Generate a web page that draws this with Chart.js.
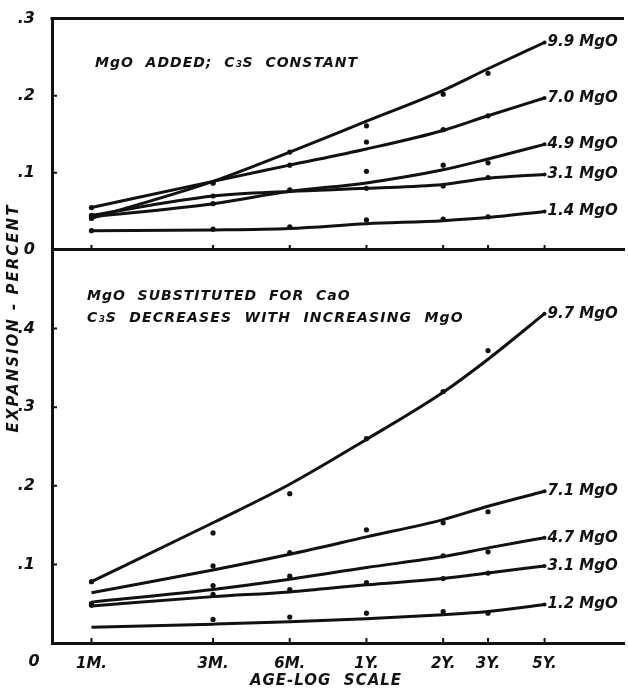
<!DOCTYPE html>
<html>
<head>
<meta charset="utf-8">
<script src="https://cdn.jsdelivr.net/npm/chart.js@4.4.1/dist/chart.umd.min.js"></script>
<style>
  html, body { margin: 0; padding: 0; background: #fff; }
  #wrap { position: relative; width: 628px; height: 692px; overflow: hidden; }
  #wrap canvas { position: absolute; left: 0; top: 0; }
</style>
</head>
<body>
<div id="wrap">
  <canvas id="topChart" width="628" height="692"></canvas>
  <canvas id="bottomChart" width="628" height="692"></canvas>
</div>
<script>
// Age axis, in months (log scale)
const ageMonths = [1, 3, 6, 12, 24, 36, 60];
const ageLabels = ['1M.', '3M.', '6M.', '1Y.', '2Y.', '3Y.', '5Y.'];

// Top panel - MgO added, C3S constant
const topNames = ['9.9 MgO', '7.0 MgO', '4.9 MgO', '3.1 MgO', '1.4 MgO'];
const topCurve99 = [0.041, 0.089, 0.127, 0.167, 0.207, 0.235, 0.269];
const topCurve70 = [0.055, 0.089, 0.110, 0.131, 0.155, 0.174, 0.197];
const topCurve49 = [0.043, 0.060, 0.076, 0.087, 0.104, 0.118, 0.137];
const topCurve31 = [0.045, 0.070, 0.076, 0.080, 0.085, 0.093, 0.098];
const topCurve14 = [0.025, 0.026, 0.028, 0.034, 0.038, 0.042, 0.050];
const topDots99 = [0.041, 0.087, 0.127, 0.161, 0.202, 0.229, null];
const topDots70 = [0.055, 0.087, 0.110, 0.140, 0.156, 0.174, null];
const topDots49 = [0.043, 0.060, 0.077, 0.102, 0.110, 0.113, null];
const topDots31 = [0.045, 0.070, 0.078, 0.080, 0.083, 0.094, null];
const topDots14 = [0.025, 0.027, 0.030, 0.039, 0.040, 0.043, null];
const topTicks = [0, 0.1, 0.2, 0.3];

// Bottom panel - MgO substituted for CaO
const botNames = ['9.7 MgO', '7.1 MgO', '4.7 MgO', '3.1 MgO', '1.2 MgO'];
const botCurve97 = [0.078, 0.153, 0.202, 0.259, 0.319, 0.361, 0.419];
const botCurve71 = [0.064, 0.093, 0.113, 0.135, 0.157, 0.174, 0.193];
const botCurve47 = [0.052, 0.068, 0.081, 0.096, 0.110, 0.121, 0.134];
const botCurve31 = [0.047, 0.059, 0.065, 0.074, 0.082, 0.089, 0.098];
const botCurve12 = [0.020, 0.024, 0.027, 0.031, 0.036, 0.040, 0.049];
const botDots97 = [0.078, 0.140, 0.190, 0.260, 0.320, 0.372, null];
const botDots71 = [null, 0.098, 0.115, 0.144, 0.153, 0.167, null];
const botDots47 = [0.050, 0.073, 0.085, null, 0.111, 0.116, null];
const botDots31 = [0.048, 0.062, 0.068, 0.077, 0.082, 0.089, null];
const botDots12 = [null, 0.030, 0.033, 0.038, 0.040, 0.038, null];
const botTicks = [0.1, 0.2, 0.3, 0.4];

const INK = '#111';
const FAMILY = '"DejaVu Sans", sans-serif';
const handFont = (size) => ({ family: FAMILY, size: size, style: 'italic', weight: 'bold' });

function pts(values) {
  return ageMonths
    .map((m, i) => ({ x: m, y: values[i] }))
    .filter(p => p.y !== null);
}

function curve(name, values) {
  return {
    endLabel: name,
    data: pts(values),
    borderColor: INK,
    borderWidth: 3,
    cubicInterpolationMode: 'monotone',
    pointRadius: (c) => (c.dataIndex === values.length - 1 ? 2 : 0),
    pointBackgroundColor: INK,
    pointBorderWidth: 0
  };
}

function dots(values) {
  return {
    data: pts(values),
    showLine: false,
    pointRadius: 2.6,
    pointBackgroundColor: INK,
    pointBorderWidth: 0
  };
}

// frame lines, inward ticks, curve labels and free text
const inkPlugin = {
  id: 'ink',
  afterDraw(chart, args, opts) {
    const { ctx, chartArea: a, scales } = chart;
    ctx.save();
    ctx.strokeStyle = INK;
    ctx.fillStyle = INK;

    if (opts.topLine) {
      ctx.lineWidth = 3;
      ctx.beginPath();
      ctx.moveTo(a.left - 1.5, a.top);
      ctx.lineTo(a.right, a.top);
      ctx.stroke();
    }

    ctx.lineWidth = 2;
    ctx.beginPath();
    ageMonths.forEach(m => {
      const x = scales.x.getPixelForValue(m);
      ctx.moveTo(x, a.bottom);
      ctx.lineTo(x, a.bottom - 5);
    });
    opts.yTicks.forEach(v => {
      const y = scales.y.getPixelForValue(v);
      ctx.moveTo(a.left, y);
      ctx.lineTo(a.left + 5, y);
    });
    ctx.stroke();

    ctx.textBaseline = 'middle';

    // curve names at the 5 year end
    ctx.font = 'italic bold 15px ' + FAMILY;
    ctx.textAlign = 'left';
    chart.data.datasets.forEach((ds, i) => {
      if (!ds.endLabel) return;
      const pts = chart.getDatasetMeta(i).data;
      const p = pts[pts.length - 1];
      ctx.fillText(ds.endLabel, p.x + 3, p.y);
    });

    (opts.texts || []).forEach(t => {
      ctx.save();
      ctx.font = 'italic bold ' + t.size + 'px ' + FAMILY;
      ctx.letterSpacing = (t.spacing || 0) + 'px';
      ctx.textAlign = t.align || 'left';
      ctx.translate(t.x, t.y);
      if (t.rotate) ctx.rotate(t.rotate);
      ctx.fillText(t.text, 0, 0);
      ctx.restore();
    });
    ctx.restore();
  }
};

function xScale(height, showLabels) {
  return {
    type: 'logarithmic',
    min: 0.705,
    max: 123,
    grid: { display: false },
    border: { display: true, color: INK, width: 3 },
    afterFit: (s) => { s.height = height; },
    afterBuildTicks: (s) => { s.ticks = ageMonths.map(v => ({ value: v })); },
    ticks: {
      display: showLabels,
      autoSkip: false,
      maxRotation: 0,
      padding: 4,
      color: INK,
      font: handFont(15),
      callback: (v, i) => ageLabels[i]
    }
  };
}

function yScale(max, tickValues) {
  return {
    type: 'linear',
    min: 0,
    max: max,
    grid: { display: false },
    border: { display: true, color: INK, width: 3 },
    afterFit: (s) => { s.width = 52; },
    afterBuildTicks: (s) => { s.ticks = tickValues.map(v => ({ value: v })); },
    ticks: {
      padding: 9,
      color: INK,
      font: handFont(16),
      callback: (v) => (v === 0 ? '0' : '.' + Math.round(v * 10))
    }
  };
}

function makeChart(id, datasets, padTop, xHeight, xLabels, yMax, yTicks, pluginOpts) {
  return new Chart(document.getElementById(id), {
    type: 'line',
    data: { datasets: datasets },
    options: {
      responsive: false,
      animation: false,
      layout: { padding: { top: padTop, right: 0, left: 0, bottom: 0 } },
      plugins: {
        legend: { display: false },
        tooltip: { enabled: false },
        ink: pluginOpts
      },
      scales: {
        x: xScale(xHeight, xLabels),
        y: yScale(yMax, yTicks)
      }
    },
    plugins: [inkPlugin]
  });
}

makeChart('topChart', [
  curve(topNames[0], topCurve99),
  curve(topNames[1], topCurve70),
  curve(topNames[2], topCurve49),
  curve(topNames[3], topCurve31),
  curve(topNames[4], topCurve14),
  dots(topDots99), dots(topDots70), dots(topDots49), dots(topDots31), dots(topDots14)
], 14, 442, false, 0.3, topTicks, {
  topLine: true,
  yTicks: topTicks,
  texts: [
    { text: 'MgO  ADDED;  C\u2083S  CONSTANT', x: 95, y: 63, size: 14, spacing: 1 }
  ]
});

makeChart('bottomChart', [
  curve(botNames[0], botCurve97),
  curve(botNames[1], botCurve71),
  curve(botNames[2], botCurve47),
  curve(botNames[3], botCurve31),
  curve(botNames[4], botCurve12),
  dots(botDots97), dots(botDots71), dots(botDots47), dots(botDots31), dots(botDots12)
], 250, 49, true, 0.5, botTicks, {
  topLine: false,
  yTicks: botTicks,
  texts: [
    { text: 'MgO  SUBSTITUTED  FOR  CaO', x: 87, y: 296, size: 14, spacing: 1 },
    { text: 'C\u2083S  DECREASES  WITH  INCREASING  MgO', x: 87, y: 318, size: 14, spacing: 1.2 },
    { text: '0', x: 34, y: 662, size: 16, align: 'center' },
    { text: 'AGE-LOG  SCALE', x: 326, y: 681, size: 15, spacing: 1, align: 'center' },
    { text: 'EXPANSION - PERCENT', x: 14, y: 318, size: 15, spacing: 2, align: 'center', rotate: -Math.PI / 2 }
  ]
});
</script>
</body>
</html>
